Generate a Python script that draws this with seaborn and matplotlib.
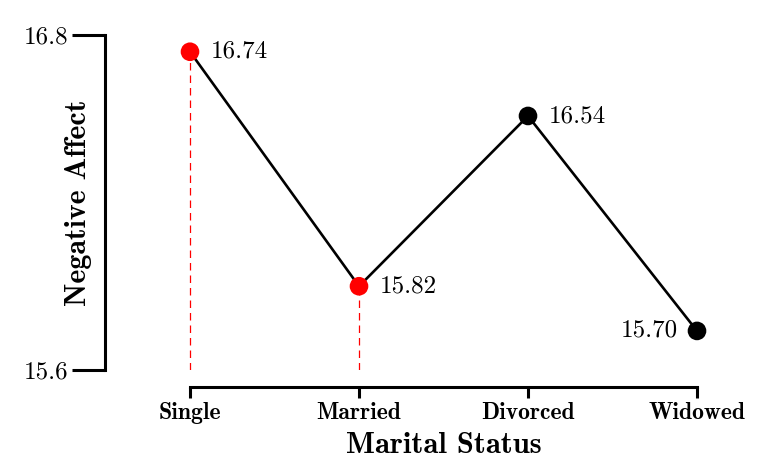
import numpy as np
import pandas as pd
import matplotlib.pyplot as plt
import seaborn as sns

# values (plot positions) and the printed labels
status = ['Single', 'Married', 'Divorced', 'Widowed']
affect = [16.74, 15.90, 16.51, 15.74]
labels = ['16.74', '15.82', '16.54', '15.70']
highlight = [True, True, False, False]

sns.set_theme(style='white')
plt.rcParams['font.family'] = ['cmr10', 'DejaVu Serif']
plt.rcParams['axes.formatter.use_mathtext'] = True
for k in ['text.color', 'axes.labelcolor', 'xtick.color', 'ytick.color']:
    plt.rcParams[k] = 'black'

bold = ['cmb10', 'DejaVu Serif']

df = pd.DataFrame({'status': status, 'affect': affect,
                   'group': ['hi' if h else 'lo' for h in highlight]})

fig = plt.figure(figsize=(7.7, 4.73), dpi=100)
ax = fig.add_axes([105 / 770, 103 / 473, 655 / 770, 335 / 473])

sns.lineplot(data=df, x='status', y='affect', sort=False, color='black',
             linewidth=1.9, ax=ax, zorder=2)
sns.scatterplot(data=df, x='status', y='affect', hue='group',
                palette={'hi': '#ff0000', 'lo': 'black'}, s=180,
                linewidth=0, legend=False, ax=ax, zorder=3)

# dashed drop lines for the highlighted groups
for i, (v, h) in enumerate(zip(affect, highlight)):
    if h:
        ax.vlines(i, 15.6, v, colors='#ff0000', linestyles=(0, (6, 4)),
                  linewidth=0.9, zorder=1)

# value labels
for i, (v, t) in enumerate(zip(affect, labels)):
    if i == len(affect) - 1:
        ax.annotate(t, (i, v), xytext=(-14, 0), textcoords='offset points',
                    ha='right', va='center', fontsize=18)
    else:
        ax.annotate(t, (i, v), xytext=(15, 0), textcoords='offset points',
                    ha='left', va='center', fontsize=18)

ax.set_xlim(-0.503, (760 - 190) / 169)
ax.set_ylim(15.6, 16.8)
ax.set_yticks([15.6, 16.8])
ax.set_yticklabels(['15.6', '16.8'])
ax.set_xticks(range(len(status)))
ax.set_xticklabels(status)

ax.set_xlabel('Marital Status', fontsize=22, family=bold)
ax.set_ylabel('Negative Affect', fontsize=21.5, family=bold)
ax.xaxis.set_label_coords((444 - 105) / 655, (370 - 432) / 335)
ax.yaxis.set_label_coords((92 - 105) / 655, 0.5)

sns.despine(ax=ax)
ax.spines['bottom'].set_position(('outward', 12))
ax.spines['bottom'].set_bounds(0, len(status) - 1)
for s in ['left', 'bottom']:
    ax.spines[s].set_linewidth(2.2)
    ax.spines[s].set_color('black')
ax.tick_params(axis='y', which='major', left=True, length=24, width=2.2,
               pad=2, labelsize=18)
ax.tick_params(axis='x', which='major', bottom=True, length=8, width=2.2,
               pad=3, labelsize=17)
for lab in ax.get_xticklabels():
    lab.set_family(bold)

fig.savefig('out.png', dpi=100)
